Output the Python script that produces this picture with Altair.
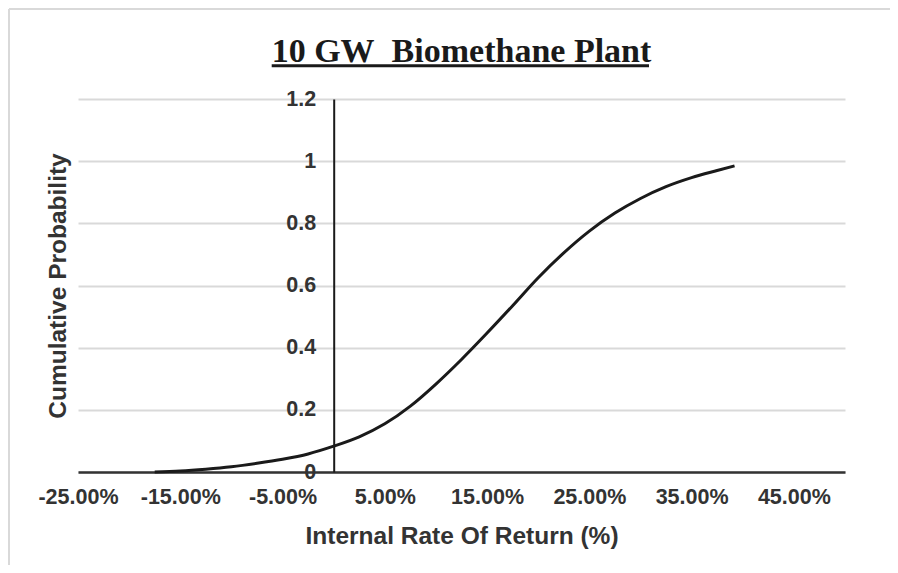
import altair as alt
import pandas as pd

# Data
irr = [-0.175, -0.15, -0.125, -0.10, -0.075, -0.05, -0.025, 0.0, 0.025, 0.05,
       0.075, 0.10, 0.125, 0.15, 0.175, 0.20, 0.225, 0.25, 0.275, 0.30,
       0.325, 0.35, 0.375, 0.392]
prob = [0.000, 0.003, 0.009, 0.017, 0.028, 0.041, 0.058, 0.083, 0.113, 0.155,
        0.212, 0.283, 0.362, 0.447, 0.535, 0.625, 0.705, 0.775, 0.833, 0.880,
        0.918, 0.947, 0.970, 0.985]
x_ticks = [-0.25, -0.15, -0.05, 0.05, 0.15, 0.25, 0.35, 0.45]
y_ticks = [0, 0.2, 0.4, 0.6, 0.8, 1.0, 1.2]

df = pd.DataFrame({"irr": irr, "prob": prob})

W, H = 767, 373
FONT = "Liberation Sans"

line = alt.Chart(df).mark_line(
    interpolate="monotone", color="#1a1a1a", strokeWidth=3
).encode(
    x=alt.X("irr:Q",
            scale=alt.Scale(domain=[-0.25, 0.50], nice=False, zero=False),
            axis=alt.Axis(values=x_ticks,
                          labelExpr="replace(format(datum.value, '.2%'), '\u2212', '-')",
                          grid=False, ticks=False,
                          domainColor="#333333", domainWidth=2.5,
                          labelFont=FONT, labelFontWeight="bold", labelFontSize=21.5,
                          labelColor="#333333", labelPadding=14,
                          title="Internal Rate Of Return (%)", titleFont=FONT,
                          titleFontWeight="bold", titleFontSize=24.5,
                          titleColor="#333333", titlePadding=17,
                          labelFlush=False, labelOverlap=False)),
    y=alt.Y("prob:Q",
            scale=alt.Scale(domain=[0, 1.2], nice=False),
            axis=alt.Axis(values=y_ticks, format="~g", grid=True,
                          gridColor="#d9d9d9", gridWidth=2, ticks=False,
                          offset=-255.7, domainColor="#1a1a1a", domainWidth=2,
                          labelFont=FONT, labelFontWeight="bold", labelFontSize=21.5,
                          labelColor="#333333", labelPadding=18,
                          title="Cumulative Probability", titleFont=FONT,
                          titleFontWeight="bold", titleFontSize=24.5,
                          titleColor="#333333", titleAngle=-90,
                          titleX=-275.7, titleY=H / 2, titleAlign="center",
                          titleBaseline="middle")),
)

deco = pd.DataFrame({"k": [0]})
frame_left = alt.Chart(deco).mark_rule(color="#d9d9d9", strokeWidth=2).encode(
    x=alt.value(-69), y=alt.value(-90), y2=alt.value(H + 120))
frame_top = alt.Chart(deco).mark_rule(color="#d9d9d9", strokeWidth=2).encode(
    x=alt.value(-69), x2=alt.value(W + 60), y=alt.value(-90))
underline = alt.Chart(deco).mark_rule(color="#1a1a1a", strokeWidth=3).encode(
    x=alt.value(193.7), x2=alt.value(571), y=alt.value(-33.3))

chart = alt.layer(frame_left, frame_top, line, underline).properties(
    width=W, height=H,
    background="white",
    padding={"left": 70, "top": 91, "right": 45, "bottom": 93},
    autosize=alt.AutoSizeParams(type="none"),
    title=alt.TitleParams("10 GW\u00a0 Biomethane Plant", font="Liberation Serif",
                          fontSize=34, fontWeight="bold", color="#1a1a1a",
                          anchor="middle", offset=-61),
).configure_view(strokeWidth=0, stroke=None)

chart.save("out.html", embed_options={"renderer": "svg", "actions": False})
